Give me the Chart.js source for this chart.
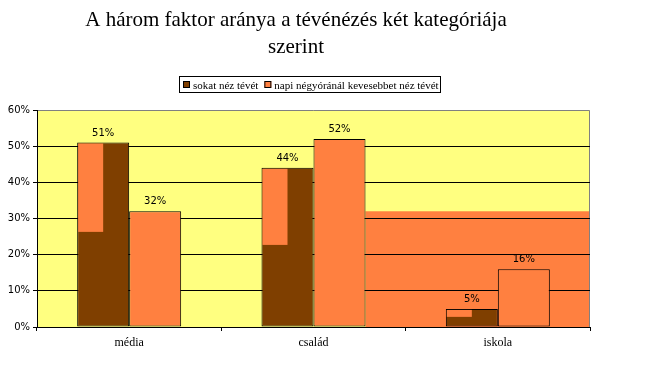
<!DOCTYPE html>
<html><head><meta charset="utf-8">
<script src="https://cdn.jsdelivr.net/npm/chart.js@4"></script>
<style>
html,body{margin:0;padding:0;background:#fff;}
#wrap{position:relative;width:657px;height:375px;overflow:hidden;background:#fff;}
#c{position:absolute;left:0;top:0;}
</style>
</head>
<body>
<div id="wrap">
<canvas id="c" width="657" height="375"></canvas>
</div>
<script>
// ---- data ----
const titleLines = ['A három faktor aránya a tévénézés két kategóriája', 'szerint'];
const categories = ['média', 'család', 'iskola'];
const seriesNames = ['sokat néz tévét', 'napi négyóránál kevesebbet néz tévét'];
const heavyViewers = [51, 44, 5];      // sokat néz tévét
const lightViewers = [32, 52, 16];     // napi négyóránál kevesebbet néz tévét
const heavyOverlayLow = [26.3, 22.7, 2.8]; // lower edge of the light patch inside the dark bars
const bandLevel = 32;                  // height of the light band at the right side
const bandAfterCategory = 'család';
const yTicks = [0, 10, 20, 30, 40, 50, 60];

// ---- styles ----
const darkColor = '#7F3F00';
const lightColor = '#FF8040';
const plotBg = '#FFFF80';
const serif = '"Liberation Serif", "Times New Roman", serif';
const colors = [darkColor, lightColor];

const catPct = 0.5642;

const backdrop = {
  id: 'backdrop',
  beforeDraw(chart) {
    const {ctx, chartArea: a, scales} = chart;
    ctx.save();
    ctx.fillStyle = plotBg;
    ctx.fillRect(a.left, a.top, a.right - a.left, a.bottom - a.top);
    const meta = chart.getDatasetMeta(1);
    const el = meta.data[categories.indexOf(bandAfterCategory)];
    if (el) {
      const x0 = el.x + el.width / 2;
      const yTop = scales.y.getPixelForValue(bandLevel);
      ctx.fillStyle = lightColor;
      ctx.fillRect(x0, yTop, a.right - x0, a.bottom - yTop);
    }
    ctx.strokeStyle = '#808080';
    ctx.lineWidth = 1;
    ctx.beginPath();
    ctx.moveTo(a.left, a.top + 0.5);
    ctx.lineTo(a.right - 0.5, a.top + 0.5);
    ctx.lineTo(a.right - 0.5, a.bottom);
    ctx.stroke();
    ctx.restore();
  }
};

const overlayAndLabels = {
  id: 'overlayAndLabels',
  afterDatasetsDraw(chart) {
    const ctx = chart.ctx;
    const y = chart.scales.y;
    ctx.save();
    const dark = chart.getDatasetMeta(0);
    dark.data.forEach((el, i) => {
      const left = el.x - el.width / 2;
      const w = el.width / 2;
      const top = el.y;
      const bottom = y.getPixelForValue(heavyOverlayLow[i]);
      ctx.fillStyle = lightColor;
      ctx.fillRect(left + 1, top + 1, w - 1, bottom - top - 1);
    });
    ctx.font = '10px "DejaVu Sans", sans-serif';
    ctx.fillStyle = '#000';
    ctx.textAlign = 'center';
    ctx.textBaseline = 'alphabetic';
    [0, 1].forEach(di => {
      const meta = chart.getDatasetMeta(di);
      const vals = chart.data.datasets[di].data;
      meta.data.forEach((el, i) => {
        ctx.fillText(vals[i] + '%', el.x, el.y - 7);
      });
    });
    ctx.restore();
  }
};

const titleAndLegend = {
  id: 'titleAndLegend',
  afterDraw(chart) {
    const ctx = chart.ctx;
    ctx.save();
    ctx.fillStyle = '#000';
    ctx.textAlign = 'center';
    ctx.textBaseline = 'alphabetic';
    ctx.font = '21px ' + serif;
    titleLines.forEach((t, i) => ctx.fillText(t, 296, 26 + i * 27));
    // legend
    ctx.font = '11px ' + serif;
    const sw = 7, gap = 3, itemGap = 6, pad = 3;
    const widths = seriesNames.map(n => ctx.measureText(n).width);
    let total = pad * 2;
    widths.forEach((w, i) => { total += sw + gap + w + (i < widths.length - 1 ? itemGap : 0); });
    const boxL = Math.round(310 - total / 2), boxT = 76, boxH = 17;
    ctx.fillStyle = '#fff';
    ctx.fillRect(boxL, boxT, total, boxH);
    ctx.strokeStyle = '#000';
    ctx.lineWidth = 1;
    ctx.strokeRect(boxL + 0.5, boxT + 0.5, Math.round(total) - 1, boxH - 1);
    let x = boxL + pad + 1;
    ctx.textAlign = 'left';
    seriesNames.forEach((n, i) => {
      ctx.fillStyle = colors[i];
      ctx.fillRect(x, boxT + 5, sw, sw);
      ctx.strokeRect(x + 0.5, boxT + 5.5, sw - 1, sw - 1);
      x += sw + gap;
      ctx.fillStyle = '#000';
      ctx.fillText(n, x, boxT + 12.5);
      x += widths[i] + itemGap;
    });
    ctx.restore();
  }
};

new Chart(document.getElementById('c'), {
  type: 'bar',
  data: {
    labels: categories,
    datasets: [
      { label: seriesNames[0], data: heavyViewers, backgroundColor: darkColor, borderColor: '#000', borderWidth: 1,
        categoryPercentage: catPct, barPercentage: 1, borderSkipped: false },
      { label: seriesNames[1], data: lightViewers, backgroundColor: lightColor, borderColor: '#000', borderWidth: 1,
        categoryPercentage: catPct, barPercentage: 1, borderSkipped: false }
    ]
  },
  options: {
    responsive: false,
    devicePixelRatio: 1,
    animation: false,
    layout: { padding: { top: 110, right: 67, left: 0, bottom: 0 } },
    plugins: { legend: { display: false }, title: { display: false }, tooltip: { enabled: false } },
    scales: {
      x: {
        type: 'category',
        offset: true,
        grid: { offset: true, drawOnChartArea: false, drawTicks: true, tickLength: 4, color: '#000', tickColor: '#000' },
        border: { color: '#000', width: 1 },
        ticks: { color: '#000', padding: 5, maxRotation: 0, font: { family: serif, size: 12 } },
        afterFit(s) { s.height = 48; }
      },
      y: {
        min: yTicks[0],
        max: yTicks[yTicks.length - 1],
        ticks: { stepSize: yTicks[1] - yTicks[0], color: '#000', padding: 3,
          font: { family: '"DejaVu Sans", sans-serif', size: 10 },
          callback: v => v + '%' },
        grid: { color: c => (c.tick && c.tick.value === yTicks[yTicks.length - 1]) ? 'rgba(0,0,0,0)' : '#000',
          tickColor: '#000', tickLength: 4, drawTicks: true, lineWidth: 1 },
        border: { color: '#000', width: 1 },
        afterFit(s) { s.width = 37; }
      }
    }
  },
  plugins: [backdrop, overlayAndLabels, titleAndLegend]
});
</script>
</body></html>
